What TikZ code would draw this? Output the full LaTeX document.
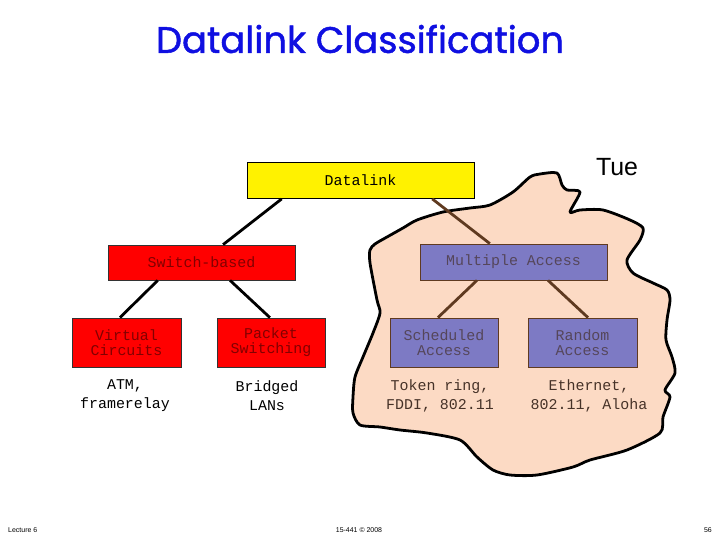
\documentclass[tikz,border=0pt]{standalone}
\usepackage{fontspec}
\usetikzlibrary{calc}
\setmainfont{Liberation Sans}
\newfontfamily\mono{Liberation Mono}
\newfontfamily\titlefont[FakeBold=1.3]{Poppins}
\definecolor{titleblue}{RGB}{15,15,225}
\definecolor{peach}{RGB}{252,218,196}
\definecolor{boxred}{RGB}{255,0,0}
\definecolor{redtext}{RGB}{130,0,0}
\definecolor{mauve}{RGB}{125,122,196}
\definecolor{mauvetext}{RGB}{85,70,90}
\definecolor{brownline}{RGB}{95,58,32}
\definecolor{labbrown}{RGB}{70,50,40}
\tikzset{
  box/.style={draw, line width=0.8pt, inner sep=0pt, align=center,
    font=\mono\fontsize{15}{15}\selectfont},
  redbox/.style={box, fill=boxred, text=redtext, draw=black!80},
  mabox/.style={box, fill=mauve, text=mauvetext, draw=brownline},
  lab/.style={align=center, font=\mono\fontsize{15}{19}\selectfont},
  blackline/.style={line width=2.8pt, black},
  brline/.style={line width=2.8pt, brownline},
  foot/.style={font=\fontsize{7}{8}\selectfont, inner sep=0pt}
}
\begin{document}
\begin{tikzpicture}[x=1bp,y=-1bp]
\useasboundingbox (0,0) rectangle (720,540);
% blob
\draw[line width=2.8pt, fill=peach, line join=round]
  plot[smooth cycle, tension=0.45] coordinates {
  (370,250) (375,244) (387,237) (403,228) (417,220) (443,212) (470,208)
  (490,205) (513,192) (530,177) (540,174) (557,173) (562,185) (567,190)
  (580,192) (570,212) (580,210) (603,210) (630,220) (643,228) (640,240)
  (627,260) (633,273) (653,283) (667,290) (670,300) (667,320) (666,340)
  (672,357) (675,373) (665,390) (670,397) (663,417) (660,433) (627,450)
  (590,460) (573,467) (537,475) (510,475) (493,470) (477,457) (460,440)
  (427,433) (400,430) (380,427) (360,425) (353,413) (353,397) (355,377)
  (363,357) (373,333) (380,313) (377,300) (370,263)};
% title
\node[text=titleblue, font=\titlefont\fontsize{37}{40}\selectfont] (title) at (360,39) {Datalink Classification};
\node[font=\fontsize{25}{28}\selectfont] (tue) at (617,167) {Tue};
% boxes
\node[box, fill=yellow, draw=black, minimum width=227bp, minimum height=36bp] (dl) at (360.5,180.5) {Datalink};
\node[redbox, minimum width=187bp, minimum height=35bp] (sw) at (201.5,262.5) {Switch-based};
\node[mabox, minimum width=187bp, minimum height=36bp] (ma) at (513.5,262) {Multiple Access};
\node[redbox, minimum width=109bp, minimum height=49bp] (vc) at (126.5,342.5) {Virtual\\Circuits};
\node[redbox, minimum width=108bp, minimum height=49bp] (ps) at (271,342.5) {Packet\\Switching};
\node[mabox, minimum width=108bp, minimum height=49bp] (sa) at (444,342.5) {Scheduled\\Access};
\node[mabox, minimum width=109bp, minimum height=49bp] (ra) at (582.5,342.5) {Random\\Access};
% connectors
\draw[blackline] ($(dl.south west)!0.154!(dl.south east)$) -- ($(sw.north west)!0.615!(sw.north east)$);
\draw[brline] ($(dl.south west)!0.815!(dl.south east)$) -- ($(ma.north west)!0.374!(ma.north east)$);
\draw[blackline] ($(sw.south west)!0.267!(sw.south east)$) -- ($(vc.north west)!0.44!(vc.north east)$);
\draw[blackline] ($(sw.south west)!0.652!(sw.south east)$) -- ($(ps.north west)!0.49!(ps.north east)$);
\draw[brline] ($(ma.south west)!0.305!(ma.south east)$) -- ($(sa.north west)!0.444!(sa.north east)$);
\draw[brline] ($(ma.south west)!0.684!(ma.south east)$) -- ($(ra.north west)!0.55!(ra.north east)$);
% labels
\node[lab] (l1) at (125,395.5) {ATM,\\framerelay};
\node[lab] (l2) at (267,395.5) {Bridged\\LANs};
\node[lab, text=labbrown] (l3) at (440,395.5) {Token ring,\\FDDI, 802.11};
\node[lab, text=labbrown] (l4) at (589,395.5) {Ethernet,\\802.11, Aloha};
% footer
\node[foot, anchor=west] (f1) at (8,530) {Lecture 6};
\node[foot] (f2) at (359,530) {15-441 © 2008};
\node[foot, anchor=east] (f3) at (712,530) {56};
\end{tikzpicture}
\end{document}
